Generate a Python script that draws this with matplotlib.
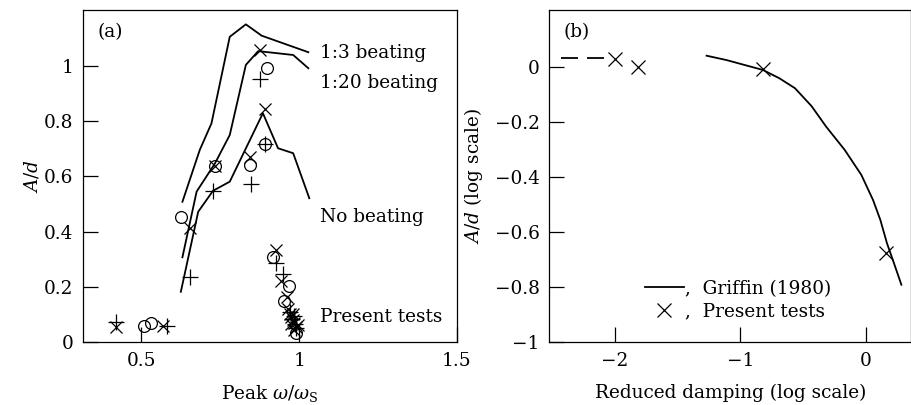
import matplotlib
matplotlib.use("Agg")
import matplotlib.pyplot as plt
from matplotlib.ticker import FuncFormatter

plt.rcParams['font.family'] = ['DejaVu Serif']
plt.rcParams['mathtext.fontset'] = 'dejavuserif'
plt.rcParams['font.size'] = 13.3

# ---- panel (a): peak amplitude against peak frequency ratio ----
beat13_x = [0.630, 0.685, 0.722, 0.780, 0.831, 0.881, 1.029]
beat13_y = [0.508, 0.696, 0.792, 1.106, 1.151, 1.110, 1.050]

beat120_x = [0.630, 0.675, 0.733, 0.780, 0.831, 0.870, 0.981, 1.029]
beat120_y = [0.307, 0.545, 0.647, 0.750, 1.004, 1.054, 1.040, 0.992]

nobeat_x = [0.625, 0.680, 0.727, 0.780, 0.885, 0.933, 0.981, 1.032]
nobeat_y = [0.182, 0.472, 0.548, 0.581, 0.829, 0.702, 0.684, 0.521]

plus_x = [0.418, 0.581, 0.655, 0.727, 0.846, 0.875, 0.893, 0.926, 0.949,
          0.970, 0.978, 0.983, 0.988, 0.990]
plus_y = [0.074, 0.058, 0.234, 0.548, 0.572, 0.953, 0.717, 0.287, 0.246,
          0.110, 0.085, 0.095, 0.065, 0.050]

cross_x = [0.418, 0.569, 0.653, 0.733, 0.844, 0.877, 0.891, 0.926, 0.941, 0.962,
           0.965, 0.970, 0.975, 0.980, 0.985, 0.975, 0.990, 0.985, 0.995, 0.980]
cross_y = [0.055, 0.058, 0.412, 0.638, 0.671, 1.058, 0.844, 0.333, 0.222, 0.162,
           0.120, 0.100, 0.090, 0.080, 0.070, 0.065, 0.055, 0.045, 0.060, 0.100]

circle_x = [0.507, 0.532, 0.624, 0.733, 0.844, 0.893, 0.897, 0.916, 0.967, 0.952, 0.990]
circle_y = [0.059, 0.070, 0.452, 0.638, 0.641, 0.717, 0.994, 0.307, 0.203, 0.148, 0.031]

a_xticks = [0.5, 1.0, 1.5]
a_yticks = [0, 0.2, 0.4, 0.6, 0.8, 1.0]

# ---- panel (b): log amplitude against log reduced damping ----
griffin_x = [-1.27, -1.11, -0.82, -0.69, -0.566, -0.434, -0.317, -0.17, -0.037,
             0.056, 0.114, 0.167, 0.223, 0.282]
griffin_y = [0.040, 0.024, -0.012, -0.042, -0.078, -0.143, -0.218, -0.302, -0.393,
             -0.484, -0.556, -0.641, -0.714, -0.792]

extrap_x = [-2.43, -2.09]
extrap_y = [0.030, 0.030]

present_x = [-2.0, -1.815, -0.82, 0.157]
present_y = [0.027, 0.0, -0.0095, -0.675]

b_xticks = [-2, -1, 0]
b_yticks = [-1, -0.8, -0.6, -0.4, -0.2, 0]

fig = plt.figure(figsize=(9.12, 4.05), dpi=100)
ax_a = fig.add_axes([83 / 912, 63 / 405, 374 / 912, 332 / 405])
ax_b = fig.add_axes([549.3 / 912, 63 / 405, 362 / 912, 332 / 405])

fmt = FuncFormatter(lambda v, p: f"{v:g}".replace("-", "\u2212"))

for ax in (ax_a, ax_b):
    ax.tick_params(direction='in', length=11, width=0.9, pad=7, labelsize=13.3)
    for s in ax.spines.values():
        s.set_linewidth(0.9)
    ax.xaxis.set_major_formatter(fmt)
    ax.yaxis.set_major_formatter(fmt)

lw = 1.3
ax_a.plot(beat13_x, beat13_y, color='black', lw=lw)
ax_a.plot(beat120_x, beat120_y, color='black', lw=lw)
ax_a.plot(nobeat_x, nobeat_y, color='black', lw=lw)
ax_a.plot(plus_x, plus_y, ls='none', marker='+', ms=12, mew=0.9, color='black')
ax_a.plot(cross_x, cross_y, ls='none', marker='x', ms=9, mew=0.9, color='black')
ax_a.plot(circle_x, circle_y, ls='none', marker='o', ms=8.5, mew=0.9,
          mfc='none', mec='black')

ax_a.set_xlim(0.315, 1.5)
ax_a.set_ylim(0, 1.203)
ax_a.set_xticks(a_xticks)
ax_a.set_yticks(a_yticks)
ax_a.set_xlabel(r'Peak $\omega/\omega_{\rm S}$')
ax_a.set_ylabel(r'$A/d$')
ax_a.xaxis.set_label_coords(0.5, -0.125)
ax_a.yaxis.set_label_coords(-0.112, 0.5)

ax_a.text(0.072, 0.934, '(a)', transform=ax_a.transAxes, ha='center', va='center')
ax_a.text(1.066, 1.047, '1:3 beating', ha='left', va='center')
ax_a.text(1.066, 0.938, '1:20 beating', ha='left', va='center')
ax_a.text(1.066, 0.454, 'No beating', ha='left', va='center')
ax_a.text(1.066, 0.092, 'Present tests', ha='left', va='center')

ax_b.plot(griffin_x, griffin_y, color='black', lw=lw, label=',  Griffin (1980)')
ax_b.plot(extrap_x, extrap_y, color='black', lw=lw, dashes=(9.4, 5))
ax_b.plot(present_x, present_y, ls='none', marker='x', ms=9.5, mew=0.9,
          color='black', label=',  Present tests')

ax_b.set_xlim(-2.523, 0.361)
ax_b.set_ylim(-1, 0.206)
ax_b.set_xticks(b_xticks)
ax_b.set_yticks(b_yticks)
ax_b.set_xlabel('Reduced damping (log scale)')
ax_b.set_ylabel(r'$A/d$ (log scale)')
ax_b.xaxis.set_label_coords(0.5, -0.125)
ax_b.yaxis.set_label_coords(-0.178, 0.5)
ax_b.text(0.076, 0.934, '(b)', transform=ax_b.transAxes, ha='center', va='center')

ax_b.legend(loc='center', bbox_to_anchor=(0.522, 0.126), frameon=False,
            handlelength=2.1, handletextpad=0.1, labelspacing=0.25,
            borderpad=0, fontsize=13.3)

fig.savefig('out.png', dpi=100)
